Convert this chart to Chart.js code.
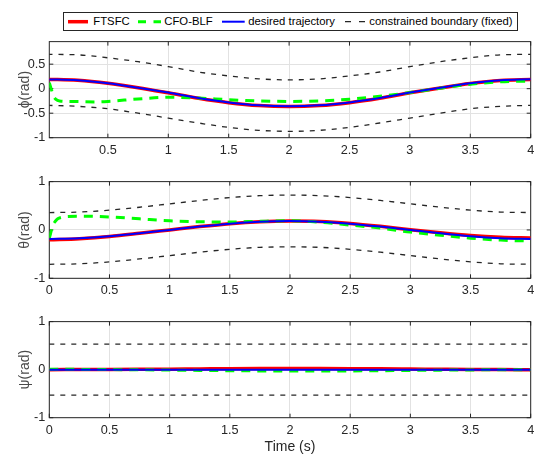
<!DOCTYPE html>
<html>
<head>
<meta charset="utf-8">
<script src="https://cdn.jsdelivr.net/npm/chart.js@4.4.0/dist/chart.umd.min.js"></script>
<style>
  html, body { margin: 0; padding: 0; background: #fff; }
  #wrap { position: relative; width: 547px; height: 464px; overflow: hidden; font-family: "Liberation Sans", Arial, Helvetica, sans-serif; }
  #wrap canvas { position: absolute; left: 0; }
  #legend { position: absolute; left: 63px; top: 12px; width: 455px; height: 19px; box-sizing: border-box; border: 1px solid #262626; background: #fff; }
  #legend span { position: absolute; top: 0; line-height: 17px; font-size: 11.3px; color: #000; white-space: nowrap; }
  #legend svg { position: absolute; top: 0; }
</style>
</head>
<body>
<div id="wrap">
  <canvas id="phiChart" width="547" height="130" style="top:30px"></canvas>
  <canvas id="thetaChart" width="547" height="130" style="top:170px"></canvas>
  <canvas id="psiChart" width="547" height="154" style="top:310px"></canvas>
  <div id="legend"></div>
</div>
<script>
// series names, as in the legend
const seriesNames = ['FTSFC', 'CFO-BLF', 'desired trajectory', 'constrained boundary (fixed)'];

// time samples (s)
const t = [0, 0.25, 0.5, 0.75, 1, 1.25, 1.5, 1.75, 2, 2.25, 2.5, 2.75, 3, 3.25, 3.5, 3.75, 4];
const xTicksTop = [0.5, 1, 1.5, 2, 2.5, 3, 3.5, 4];
const xTicks = [0, 0.5, 1, 1.5, 2, 2.5, 3, 3.5, 4];
const yTicksPhi = [-1, -0.5, 0, 0.5];
const yTicksUnit = [-1, 0, 1];

// phi (rad)
const phiDesired = [0.19, 0.17, 0.11, 0.02, -0.08, -0.19, -0.28, -0.34, -0.36, -0.34, -0.28, -0.19, -0.08, 0.02, 0.11, 0.17, 0.19];
const phiFtsfc = [0.19, 0.17, 0.11, 0.02, -0.085, -0.195, -0.285, -0.345, -0.365, -0.345, -0.285, -0.195, -0.085, 0.015, 0.105, 0.165, 0.185];
const phiUpper = [0.70, 0.69, 0.63, 0.55, 0.45, 0.34, 0.26, 0.20, 0.18, 0.20, 0.26, 0.34, 0.45, 0.55, 0.63, 0.69, 0.70];
const phiLower = [-0.34, -0.36, -0.41, -0.50, -0.60, -0.70, -0.79, -0.85, -0.87, -0.85, -0.79, -0.70, -0.60, -0.50, -0.41, -0.36, -0.34];
const tPhiCfo = [0.015, 0.03, 0.05, 0.07, 0.1, 0.2, 0.4, 0.5, 0.75, 1, 1.25, 1.5, 1.75, 2, 2.25, 2.5, 2.75, 3, 3.25, 3.5, 3.75, 4];
const phiCfo = [0.12, 0.0, -0.15, -0.22, -0.25, -0.26, -0.27, -0.26, -0.21, -0.175, -0.19, -0.225, -0.25, -0.26, -0.25, -0.215, -0.155, -0.08, 0.01, 0.09, 0.14, 0.155];

// theta (rad)
const thetaDesired = [-0.185, -0.17, -0.13, -0.07, 0, 0.07, 0.13, 0.17, 0.185, 0.17, 0.13, 0.07, 0, -0.07, -0.13, -0.17, -0.185];
const thetaFtsfc = [-0.205, -0.18, -0.135, -0.07, 0, 0.07, 0.13, 0.17, 0.185, 0.175, 0.135, 0.075, 0.005, -0.06, -0.115, -0.15, -0.165];
const thetaUpper = [0.36, 0.37, 0.41, 0.47, 0.54, 0.61, 0.67, 0.71, 0.72, 0.71, 0.67, 0.61, 0.54, 0.47, 0.41, 0.37, 0.36];
const thetaLower = [-0.71, -0.70, -0.66, -0.60, -0.53, -0.46, -0.40, -0.36, -0.35, -0.36, -0.40, -0.46, -0.53, -0.60, -0.66, -0.70, -0.71];
const tThetaCfo = [0, 0.01, 0.03, 0.05, 0.07, 0.1, 0.15, 0.25, 0.5, 0.75, 1, 1.25, 1.5, 1.75, 2, 2.25, 2.5, 2.75, 3, 3.25, 3.5, 3.75, 4];
const thetaCfo = [-0.17, -0.08, 0.1, 0.18, 0.23, 0.26, 0.28, 0.285, 0.27, 0.23, 0.19, 0.17, 0.165, 0.18, 0.19, 0.16, 0.10, 0.04, -0.045, -0.11, -0.17, -0.21, -0.23];

// psi (rad)
const psiDesired = [0, 0, 0, 0, 0, 0, 0, 0, 0, 0, 0, 0, 0, 0, 0, 0, 0];
const psiFtsfc = [0, 0.002, 0.004, 0.007, 0.011, 0.015, 0.019, 0.022, 0.023, 0.022, 0.02, 0.017, 0.013, 0.009, 0.005, 0.002, 0];
const psiCfo = [0.01, 0.006, 0.002, -0.002, -0.008, -0.015, -0.021, -0.026, -0.028, -0.028, -0.026, -0.022, -0.016, -0.01, -0.005, -0.002, 0];
const tPsiBound = [0, 4];
const psiUpper = [0.53, 0.53];
const psiLower = [-0.53, -0.53];

const FONT = '"Liberation Sans", Arial, Helvetica, sans-serif';
const RED = '#ff0000', GREEN = '#00ff00', BLUE = '#0000ff', BLACK = '#262626';

function pts(xs, ys) {
  return xs.map((x, i) => ({ x: x, y: ys[i] }));
}

// axes box + inward tick marks, like the original figure
const boxPlugin = {
  id: 'box',
  beforeDatasetsDraw(chart) {
    const { ctx, chartArea: a, scales: { x, y } } = chart;
    ctx.save();
    ctx.strokeStyle = BLACK;
    ctx.lineWidth = 1;
    ctx.strokeRect(a.left, a.top, a.right - a.left, a.bottom - a.top);
    ctx.beginPath();
    x.ticks.forEach((tk) => {
      const px = x.getPixelForValue(tk.value);
      ctx.moveTo(px, a.bottom); ctx.lineTo(px, a.bottom - 4);
      ctx.moveTo(px, a.top); ctx.lineTo(px, a.top + 4);
    });
    y.ticks.forEach((tk) => {
      const py = y.getPixelForValue(tk.value);
      ctx.moveTo(a.left, py); ctx.lineTo(a.left + 4, py);
      ctx.moveTo(a.right, py); ctx.lineTo(a.right - 4, py);
    });
    ctx.stroke();
    ctx.restore();
  },
};

function makePanel(id, p) {
  const tickFont = { family: FONT, size: 12.7 };
  return new Chart(document.getElementById(id), {
    type: 'line',
    data: {
      datasets: [
        { label: seriesNames[0], data: pts(t, p.ftsfc), borderColor: RED, borderWidth: 3.5, order: 4 },
        { label: seriesNames[1], data: pts(p.tCfo, p.cfo), borderColor: GREEN, borderWidth: 3, borderDash: [9, 7], order: 3 },
        { label: seriesNames[2], data: pts(t, p.desired), borderColor: BLUE, borderWidth: 2, order: 2 },
        { label: seriesNames[3], data: pts(p.tBound, p.upper), borderColor: BLACK, borderWidth: 1.3, borderDash: [5, 6], order: 1 },
        { label: seriesNames[3], data: pts(p.tBound, p.lower), borderColor: BLACK, borderWidth: 1.3, borderDash: [5, 6], order: 1 },
      ],
    },
    options: {
      responsive: false,
      animation: false,
      events: [],
      elements: {
        point: { radius: 0 },
        line: { cubicInterpolationMode: 'monotone', fill: false },
      },
      layout: { padding: { top: p.padTop, right: 16.3, left: 0, bottom: 0 } },
      plugins: { legend: { display: false }, tooltip: { enabled: false } },
      scales: {
        x: {
          type: 'linear',
          min: p.xMin,
          max: 4,
          afterBuildTicks: (s) => { s.ticks = p.xTicks.map((v) => ({ value: v })); },
          afterFit: (s) => { s.height = p.xHeight; },
          grid: { color: '#e2e2e2', drawTicks: false },
          border: { display: false },
          ticks: { padding: 5, color: BLACK, font: tickFont, maxRotation: 0, autoSkip: false, callback: (v) => String(v) },
          title: p.xTitle
            ? { display: true, text: p.xTitle, color: BLACK, font: { family: FONT, size: 14 }, padding: { top: 0, bottom: 8 } }
            : { display: false },
        },
        y: {
          type: 'linear',
          min: p.yMin,
          max: p.yMax,
          afterBuildTicks: (s) => { s.ticks = p.yTicks.map((v) => ({ value: v })); },
          afterFit: (s) => { s.width = 49.3; },
          grid: { color: '#e2e2e2', drawTicks: false },
          border: { display: false },
          ticks: { padding: 4, color: BLACK, font: tickFont, callback: (v) => String(v) },
          title: { display: true, text: p.yTitle, color: '#4a4a4a', font: { family: FONT, size: 14 }, padding: { top: 16.6, bottom: 0 } },
        },
      },
    },
    plugins: [boxPlugin],
  });
}

makePanel('phiChart', {
  ftsfc: phiFtsfc, desired: phiDesired, tCfo: tPhiCfo, cfo: phiCfo,
  tBound: t, upper: phiUpper, lower: phiLower,
  xMin: 0.015, xTicks: xTicksTop, yMin: -1, yMax: 0.96, yTicks: yTicksPhi,
  padTop: 8.3, xHeight: 22.3, yTitle: 'ϕ(rad)',
});

makePanel('thetaChart', {
  ftsfc: thetaFtsfc, desired: thetaDesired, tCfo: tThetaCfo, cfo: thetaCfo,
  tBound: t, upper: thetaUpper, lower: thetaLower,
  xMin: 0, xTicks: xTicks, yMin: -1, yMax: 1, yTicks: yTicksUnit,
  padTop: 9, xHeight: 21.7, yTitle: 'θ(rad)',
});

makePanel('psiChart', {
  ftsfc: psiFtsfc, desired: psiDesired, tCfo: t, cfo: psiCfo,
  tBound: tPsiBound, upper: psiUpper, lower: psiLower,
  xMin: 0, xTicks: xTicks, yMin: -1, yMax: 1, yTicks: yTicksUnit,
  padTop: 9, xHeight: 46.3, yTitle: 'ψ(rad)', xTitle: 'Time (s)',
});

// legend box (HTML), one entry per series
const legendStyles = [
  { color: RED, width: 3.5, dash: '' },
  { color: GREEN, width: 3, dash: '8 7.5' },
  { color: BLUE, width: 2, dash: '' },
  { color: BLACK, width: 1.3, dash: '6 8' },
];
const legendSlots = [
  { line: 3.7, len: 20.6, text: 29.3 },
  { line: 73.7, len: 23.3, text: 100.3 },
  { line: 158.3, len: 22.7, text: 184.3 },
  { line: 281, len: 20, text: 305.3 },
];
const legend = document.getElementById('legend');
seriesNames.forEach((name, i) => {
  const s = legendStyles[i], slot = legendSlots[i];
  const svgNS = 'http://www.w3.org/2000/svg';
  const svg = document.createElementNS(svgNS, 'svg');
  svg.setAttribute('width', slot.len);
  svg.setAttribute('height', 17);
  svg.style.left = slot.line + 'px';
  const ln = document.createElementNS(svgNS, 'line');
  ln.setAttribute('x1', 0); ln.setAttribute('x2', slot.len);
  ln.setAttribute('y1', 8.7); ln.setAttribute('y2', 8.7);
  ln.setAttribute('stroke', s.color);
  ln.setAttribute('stroke-width', s.width);
  if (s.dash) ln.setAttribute('stroke-dasharray', s.dash);
  svg.appendChild(ln);
  legend.appendChild(svg);
  const span = document.createElement('span');
  span.textContent = name;
  span.style.left = slot.text + 'px';
  legend.appendChild(span);
});
</script>
</body>
</html>
